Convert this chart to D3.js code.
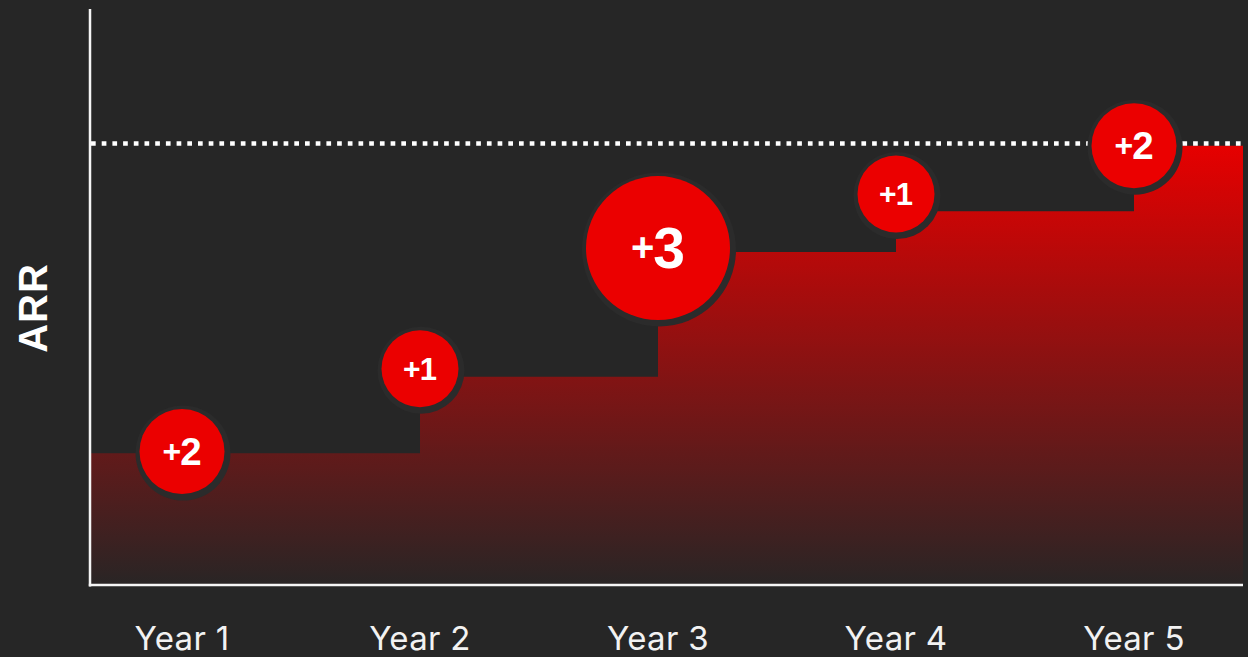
<!DOCTYPE html>
<html>
<head>
<meta charset="utf-8">
<script src="https://cdn.jsdelivr.net/npm/d3@7"></script>
<style>
  body { margin: 0; background: #262626; }
  svg { display: block; }
</style>
</head>
<body>
<div id="grafArr"></div>
<script>
// datos
const years = ["Year 1", "Year 2", "Year 3", "Year 4", "Year 5"];
const arrLevels = [22.9, 36.2, 57.9, 65.0, 76.4];
const gains = [2, 1, 3, 1, 2];
const bubbleArr = [23.2, 37.6, 58.6, 68.0, 76.4];
const targetArr = 76.8;
const yLabel = "ARR";

const W = 1248, H = 657;
const margin = { top: 10, right: 5, bottom: 72, left: 90 };

const svg = d3.select("#grafArr")
  .append("svg")
  .attr("width", W)
  .attr("height", H);

svg.append("rect").attr("width", W).attr("height", H).attr("fill", "#262626");

// escalas
const x = d3.scaleBand().domain(years).range([63, 1253]);
const y = d3.scaleLinear().domain([0, 100]).range([H - margin.bottom, margin.top]);
const r = d3.scaleLinear().domain([1, 2, 3]).range([38.5, 42.5, 72]);
const fs = d3.scaleLinear().domain([1, 2, 3]).range([31, 38.5, 57]);
const fsPlus = d3.scaleLinear().domain([1, 2, 3]).range([30, 32, 40]);
const cx = (d) => x(d) + x.bandwidth() / 2;
const xEnd = W - margin.right;

// degradado del area
const grad = svg.append("defs").append("linearGradient")
  .attr("id", "arrGrad")
  .attr("gradientUnits", "userSpaceOnUse")
  .attr("x1", 0).attr("x2", 0)
  .attr("y1", y(d3.max(arrLevels)))
  .attr("y2", y(0));
grad.append("stop").attr("offset", "0%").attr("stop-color", "#e60000");
grad.append("stop").attr("offset", "100%").attr("stop-color", "#292525");

// puntos del escalon
const stepPts = arrLevels.map((v, i) => ({ x: i === 0 ? margin.left : cx(years[i]), v }));
stepPts.push({ x: xEnd, v: arrLevels[arrLevels.length - 1] });

const area = d3.area()
  .x((d) => d.x)
  .y0(y(0))
  .y1((d) => y(d.v))
  .curve(d3.curveStepAfter);

svg.append("path")
  .datum(stepPts)
  .attr("d", area)
  .attr("fill", "url(#arrGrad)");

// linea objetivo punteada
svg.append("line")
  .attr("x1", margin.left + 1)
  .attr("x2", xEnd)
  .attr("y1", y(targetArr))
  .attr("y2", y(targetArr))
  .attr("stroke", "#ffffff")
  .attr("stroke-width", 4.5)
  .attr("stroke-dasharray", "4.7 6");

// ejes
svg.append("line")
  .attr("x1", margin.left).attr("x2", margin.left)
  .attr("y1", y(100) - 1).attr("y2", y(0) + 1.5)
  .attr("stroke", "#f5f5f5").attr("stroke-width", 2.5);

svg.append("line")
  .attr("x1", margin.left - 1.2).attr("x2", xEnd)
  .attr("y1", y(0)).attr("y2", y(0))
  .attr("stroke", "#f5f5f5").attr("stroke-width", 2.5);

const xAxis = svg.append("g")
  .attr("transform", `translate(0,${y(0)})`)
  .call(d3.axisBottom(x).tickSize(0));
xAxis.select(".domain").remove();
xAxis.selectAll("text")
  .attr("y", 65)
  .attr("dy", 0)
  .attr("fill", "#f2f2f2")
  .style("font-family", "Inter, 'Noto Sans', sans-serif")
  .style("font-size", "33px")
  .style("letter-spacing", "0.3px");

svg.append("text")
  .attr("transform", `translate(47,${308})rotate(-90)`)
  .attr("text-anchor", "middle")
  .attr("fill", "#ffffff")
  .style("font-family", "'Liberation Sans', Arial, sans-serif")
  .style("font-weight", "bold")
  .style("font-size", "40px")
  .style("letter-spacing", "1px")
  .text(yLabel);

// burbujas
const bubbles = svg.selectAll(".bubble")
  .data(years.map((yr, i) => ({ yr, g: gains[i], v: bubbleArr[i] })))
  .enter()
  .append("g")
  .attr("class", "bubble")
  .attr("transform", (d) => `translate(${cx(d.yr)},${y(d.v)})`);

bubbles.append("circle")
  .attr("cx", 1).attr("cy", 1.5)
  .attr("r", (d) => r(d.g) + 5)
  .attr("fill", "#2b2b2b");

bubbles.append("circle")
  .attr("r", (d) => r(d.g))
  .attr("fill", "#eb0000");

const label = bubbles.append("text")
  .attr("text-anchor", "middle")
  .attr("y", (d) => fs(d.g) * 0.358)
  .attr("fill", "#ffffff")
  .style("font-family", "'Liberation Sans', Arial, sans-serif")
  .style("font-weight", "bold");

// subir el "+" al centro de la cifra
const plusShift = (d) => fs(d.g) * 0.358 - fsPlus(d.g) * 0.33;

label.append("tspan")
  .style("font-size", (d) => fsPlus(d.g) + "px")
  .attr("dy", (d) => -plusShift(d))
  .text("+");
label.append("tspan")
  .style("font-size", (d) => fs(d.g) + "px")
  .attr("dx", -1)
  .attr("dy", (d) => plusShift(d))
  .text((d) => d.g);
</script>
</body>
</html>
